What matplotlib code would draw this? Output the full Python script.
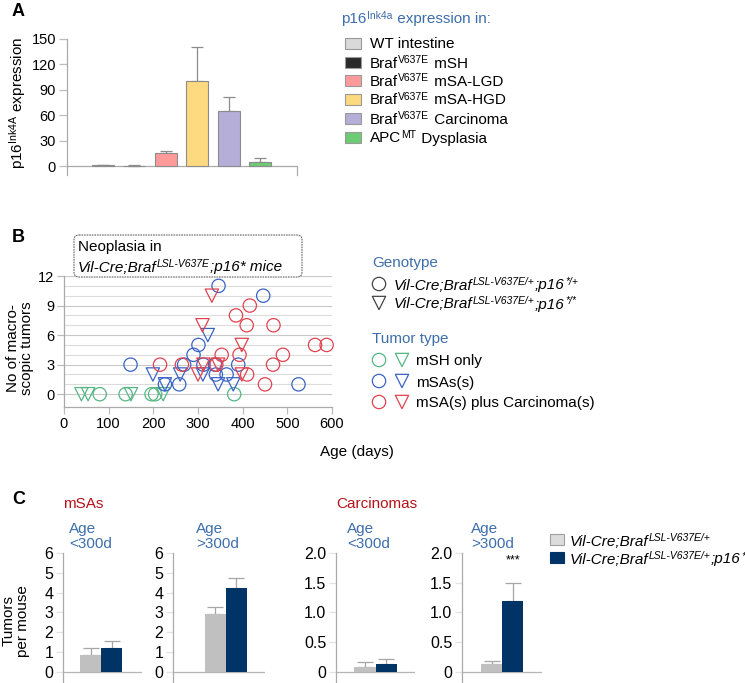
import matplotlib.pyplot as plt
from matplotlib.patches import Rectangle, FancyBboxPatch

plt.rcParams['font.family'] = ['Liberation Sans', 'DejaVu Sans']
plt.rcParams['mathtext.fontset'] = 'custom'
plt.rcParams['mathtext.rm'] = 'Liberation Sans'
plt.rcParams['mathtext.it'] = 'Liberation Sans:italic'

# ---- panel A data
a_labels = ["WT intestine", "mSH", "mSA-LGD", "mSA-HGD", "Carcinoma", "Dysplasia"]
a_values = [1, 0.6, 15, 100, 65, 5]
a_err = [0.4, 0.4, 3, 41, 16, 4]
a_colors = ['#d9d9d9', '#2a2a2a', '#ff9a9a', '#fdd97f', '#b4aed8', '#6ccb73']

# ---- panel B data (age in days, number of tumors)
circ_green_age = [80, 138, 196, 204, 381]
circ_green_n = [0, 0, 0, 0, 0]
tri_green_age = [39, 54, 150, 222]
tri_green_n = [0, 0, 0, 0]
circ_blue_age = [149, 226, 258, 269, 290, 301, 312, 338, 340, 346, 364, 390, 446, 525]
circ_blue_n = [3, 1, 1, 3, 4, 5, 3, 3, 2, 11, 2, 3, 10, 1]
tri_blue_age = [199, 226, 260, 311, 322, 345, 379]
tri_blue_n = [2, 1, 2, 2, 6, 1, 1]
circ_red_age = [215, 264, 341, 353, 385, 393, 409, 410, 416, 450, 468, 469, 490, 562, 588]
circ_red_n = [3, 3, 3, 4, 8, 4, 7, 2, 9, 1, 3, 7, 4, 5, 5]
tri_red_age = [300, 310, 312, 331, 345, 398, 398]
tri_red_n = [2, 7, 3, 10, 3, 5, 2]

# ---- panel C data (tumors per mouse: [p16 +/+, p16 *])
msa_young = [0.86, 1.23]
msa_young_err = [0.35, 0.32]
msa_old = [2.93, 4.24]
msa_old_err = [0.35, 0.5]
car_young = [0.08, 0.13]
car_young_err = [0.08, 0.08]
car_old = [0.14, 1.2]
car_old_err = [0.05, 0.29]

W, H = 745, 683
fig = plt.figure(figsize=(W / 100, H / 100), dpi=100)
renderer = fig.canvas.get_renderer()

BLUE = '#3d6eab'
RED = '#b5121b'
TICK = '#bdbdbd'
FS = 11


def px_axes(l, t, r, b):
    return fig.add_axes([l / W, 1 - b / H, (r - l) / W, (b - t) / H])


ov = fig.add_axes([0, 0, 1, 1], zorder=10)
ov.set_xlim(0, W)
ov.set_ylim(H, 0)
ov.axis('off')


def rich(x, y, parts, size=FS, color='black', style='normal', weight='normal'):
    # y is the vertical centre of the capital letters, in pixels
    base = y + 0.5 * size
    cx = x
    for s, sup in parts:
        fs = size * 0.68 if sup else size
        yy = base - size * 0.4 if sup else base
        t = ov.text(cx, yy, s, fontsize=fs, color=color, style=style,
                    weight=weight, va='baseline', ha='left')
        cx += t.get_window_extent(renderer).width + (0.5 if sup else 0.3)
    return cx


def style_axis(ax):
    for s in ['top', 'right', 'bottom']:
        ax.spines[s].set_visible(False)
    ax.spines['left'].set_color('#aaaaaa')
    ax.spines['left'].set_linewidth(0.9)
    ax.tick_params(axis='y', colors=TICK, labelcolor='black', length=6, width=0.9, pad=2)
    ax.set_xticks([])


# ================= panel A
axA = px_axes(67, 39, 297, 175)
a_pos = list(range(1, 7))
axA.bar(a_pos, a_values, width=0.7, color=a_colors, edgecolor='#8c8c8c', lw=0.8, zorder=3)
axA.errorbar(a_pos, a_values, yerr=[[0] * 6, a_err], fmt='none', ecolor='#8c8c8c',
             elinewidth=0.9, capsize=4.5, capthick=0.9, zorder=2)
axA.set_xlim(-0.15, 7.18)
axA.set_ylim(-10.6, 150)
axA.set_yticks(range(0, 151, 30))
style_axis(axA)
axA.tick_params(axis='y', labelsize=10.5)
axA.axhline(0, color='#aaaaaa', lw=0.9)
axA.plot([7.18, 7.18], [-10.6, 0], color='#aaaaaa', lw=0.9, clip_on=False)

ov.text(12, 12, 'A', fontsize=13, weight='bold', va='center')
ov.text(18, 103, 'p16$^{\\mathrm{Ink4A}}$ expression', fontsize=11, rotation=90,
        ha='center', va='center')

rich(341, 18, [('p16', False), ('Ink4a', True), (' expression in:', False)], color=BLUE)
a_leg_y = [43, 62, 80, 99, 118, 137]
a_leg_text = [
    [('WT intestine', False)],
    [('Braf', False), ('V637E', True), (' mSH', False)],
    [('Braf', False), ('V637E', True), (' mSA-LGD', False)],
    [('Braf', False), ('V637E', True), (' mSA-HGD', False)],
    [('Braf', False), ('V637E', True), (' Carcinoma', False)],
    [('APC', False), ('MT', True), (' Dysplasia', False)],
]
for yy, col, parts in zip(a_leg_y, a_colors, a_leg_text):
    ov.add_patch(Rectangle((345, yy - 5.5), 16, 11, facecolor=col, edgecolor='#9a9a9a', lw=0.8))
    rich(370, yy, parts)

# ================= panel B
GREEN_C = '#55b784'
BLUE_C = '#3a63c6'
RED_C = '#e0434f'
axB = px_axes(64, 276, 332, 407)
for y in range(0, 13):
    axB.axhline(y, color='#c8c8c8' if y % 3 == 0 else '#dcdcdc', lw=0.8, zorder=0)
ms = 92
for ages, ns, mk, col in [
    (circ_green_age, circ_green_n, 'o', GREEN_C),
    (tri_green_age, tri_green_n, 'v', GREEN_C),
    (circ_blue_age, circ_blue_n, 'o', BLUE_C),
    (tri_blue_age, tri_blue_n, 'v', BLUE_C),
    (circ_red_age, circ_red_n, 'o', RED_C),
    (tri_red_age, tri_red_n, 'v', RED_C),
]:
    axB.scatter(ages, ns, s=ms, marker=mk, facecolors='none', edgecolors=col,
                linewidths=0.9, clip_on=False, zorder=3)
axB.set_xlim(0, 600)
axB.set_ylim(-1.3, 12)
axB.set_yticks([0, 3, 6, 9, 12])
axB.set_xticks(range(0, 601, 100))
for s in ['top', 'right']:
    axB.spines[s].set_visible(False)
for s in ['left', 'bottom']:
    axB.spines[s].set_color('#aaaaaa')
    axB.spines[s].set_linewidth(0.9)
axB.tick_params(colors=TICK, labelcolor='black', length=5, width=0.9, labelsize=10.5, pad=2)

ov.text(12, 238, 'B', fontsize=13, weight='bold', va='center')
box = FancyBboxPatch((74, 235), 228, 42, boxstyle='round,pad=0,rounding_size=5',
                     facecolor='white', edgecolor='#666666', lw=0.8, ls=(0, (1.5, 0.8)))
ov.add_patch(box)
rich(78, 246, [('Neoplasia in', False)])
rich(78, 266, [('Vil-Cre;Braf', False), ('LSL-V637E', True), (';p16* mice', False)],
     style='italic')
ov.text(20, 348, 'No of macro-\nscopic tumors', fontsize=11, rotation=90,
        ha='center', va='center', linespacing=1.0)
ov.text(320, 452, 'Age (days)', fontsize=11, va='center')

rich(372, 262, [('Genotype', False)], color=BLUE)
ov.scatter([379], [284], s=ms, marker='o', facecolors='none', edgecolors='#444444', linewidths=0.9)
ov.scatter([379], [303], s=ms, marker='v', facecolors='none', edgecolors='#444444', linewidths=0.9)
rich(394, 284, [('Vil-Cre;Braf', False), ('LSL-V637E/+', True), (';p16', False), ('*/+', True)],
     style='italic')
rich(394, 303, [('Vil-Cre;Braf', False), ('LSL-V637E/+', True), (';p16', False), ('*/*', True)],
     style='italic')
rich(372, 338, [('Tumor type', False)], color=BLUE)
for yy, col, lab in [(360, GREEN_C, 'mSH only'), (381, BLUE_C, 'mSAs(s)'),
                     (402, RED_C, 'mSA(s) plus Carcinoma(s)')]:
    ov.scatter([379], [yy], s=ms, marker='o', facecolors='none', edgecolors=col, linewidths=0.9)
    ov.scatter([402], [yy], s=ms, marker='v', facecolors='none', edgecolors=col, linewidths=0.9)
    rich(416, yy, [(lab, False)])

# ================= panel C
C_COLORS = ['#c0c0c0', '#003366']


def c_panel(l, r, vals, errs, xlim, ylim, ticks, ticklabels):
    ax = px_axes(l, 553, r, 683)
    ax.bar([1, 2], vals, width=1.0, color=C_COLORS, zorder=3)
    ax.errorbar([1, 2], vals, yerr=[[0, 0], errs], fmt='none', ecolor='#a6a6a6',
                elinewidth=0.9, capsize=5.5, capthick=0.9, zorder=2)
    ax.set_xlim(*xlim)
    ax.set_ylim(*ylim)
    ax.set_yticks(ticks)
    ax.set_yticklabels(ticklabels)
    style_axis(ax)
    ax.tick_params(axis='y', colors='#e3e3e3', labelcolor='black', labelsize=11.5, length=5)
    ax.axhline(0, color='#b5b5b5', lw=0.9)
    return ax


six = list(range(0, 7))
two = [0, 0.5, 1.0, 1.5, 2.0]
two_lab = ['0', '0.5', '1.0', '1.5', '2.0']
c_panel(63, 142, msa_young, msa_young_err, (-0.33, 3.43), (-0.56, 6), six, [str(v) for v in six])
c_panel(173, 265, msa_old, msa_old_err, (-1.0, 3.38), (-0.56, 6), six, [str(v) for v in six])
c_panel(336, 415, car_young, car_young_err, (-0.38, 3.38), (-0.187, 2), two, two_lab)
c_panel(462, 542, car_old, car_old_err, (-0.4, 3.38), (-0.187, 2), two, two_lab)

ov.text(12, 499, 'C', fontsize=13, weight='bold', va='center')
rich(63, 503, [('mSAs', False)], color=RED)
rich(336, 503, [('Carcinomas', False)], color=RED)
for xx, lab in [(69, '<300d'), (196, '>300d'), (347, '<300d'), (471, '>300d')]:
    rich(xx, 528, [('Age', False)], color=BLUE)
    rich(xx, 542, [(lab, False)], color=BLUE)
ov.text(513, 560, '***', fontsize=9, ha='center', va='center')
ov.text(16, 621, 'Tumors\nper mouse', fontsize=11, rotation=90,
        ha='center', va='center', linespacing=1.0)

ov.add_patch(Rectangle((550, 534), 14, 11, facecolor='#dcdcdc', edgecolor='#a0a0a0', lw=0.8))
ov.add_patch(Rectangle((550, 552), 14, 11, facecolor='#003366', edgecolor='#003366', lw=0.8))
rich(570, 540, [('Vil-Cre;Braf', False), ('LSL-V637E/+', True)], style='italic')
rich(570, 558, [('Vil-Cre;Braf', False), ('LSL-V637E/+', True), (';p16', False), ('*', True)],
     style='italic')

fig.savefig('out.png', dpi=100)
